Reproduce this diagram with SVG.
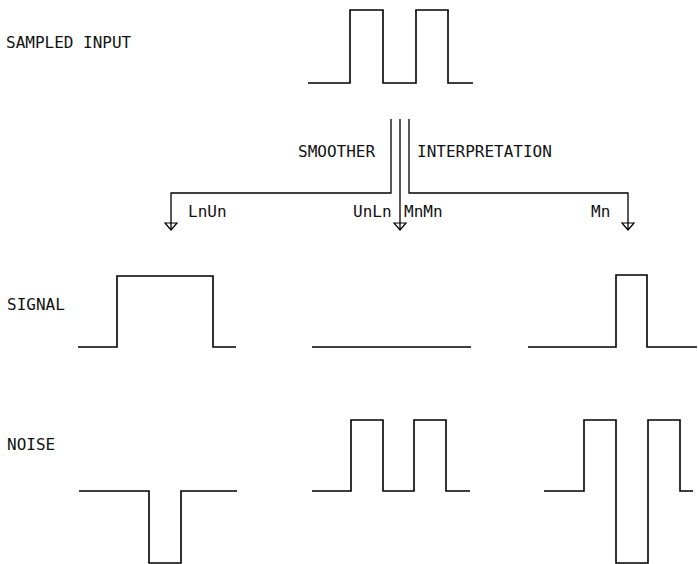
<svg xmlns="http://www.w3.org/2000/svg" width="698" height="564" viewBox="0 0 698 564">
<style>
.w{fill:none;stroke:#000;stroke-width:1.6;stroke-linejoin:miter}
.c{fill:none;stroke:#000;stroke-width:1.3}
.t{font-family:"DejaVu Sans Mono","Liberation Mono",monospace;font-size:16px;fill:#111}
</style>
<defs>
<marker id="ah" viewBox="-9 -8 10 16" markerWidth="10" markerHeight="16" refX="0" refY="0" markerUnits="userSpaceOnUse" orient="auto" overflow="visible">
<path d="M-7,-6 L0,0 L-7,6 Z" fill="none" stroke="#000" stroke-width="1.2"/>
</marker>
</defs>
<rect width="698" height="564" fill="#fff"/>
<g id="labels">
<text class="t" x="6" y="48">SAMPLED INPUT</text>
<text class="t" x="298" y="157">SMOOTHER</text>
<text class="t" x="417" y="157">INTERPRETATION</text>
<text class="t" x="188" y="217">LnUn</text>
<text class="t" x="353" y="217">UnLn</text>
<text class="t" x="404" y="217">MnMn</text>
<text class="t" x="591" y="217">Mn</text>
<text class="t" x="7" y="310">SIGNAL</text>
<text class="t" x="7" y="450">NOISE</text>
</g>
<g id="input">
<path class="w" d="M308,83 H350 V10 H383 V83 H416 V10 H448 V83 H473"/>
</g>
<g id="connectors">
<path class="c" d="M391,119 V193 H171 V230" marker-end="url(#ah)"/>
<path class="c" d="M400,119 V230" marker-end="url(#ah)"/>
<path class="c" d="M409,119 V193 H628 V230" stroke-width="2" marker-end="url(#ah)"/>
</g>
<g id="signal-lnun">
<path class="w" d="M78,347 H117 V276 H213 V347 H236"/>
</g>
<g id="signal-unln-mnmn">
<path class="w" d="M312,347 H471"/>
</g>
<g id="signal-mn">
<path class="w" d="M528,347 H616 V275 H647 V347 H697"/>
</g>
<g id="noise-lnun">
<path class="w" d="M79,491 H149 V563 H181 V491 H237"/>
</g>
<g id="noise-unln-mnmn">
<path class="w" d="M312,491 H351 V420 H383 V491 H414 V420 H446 V491 H470"/>
</g>
<g id="noise-mn">
<path class="w" d="M544,491 H584 V420 H616 V563 H648 V420 H680 V491 H693"/>
</g>
</svg>
